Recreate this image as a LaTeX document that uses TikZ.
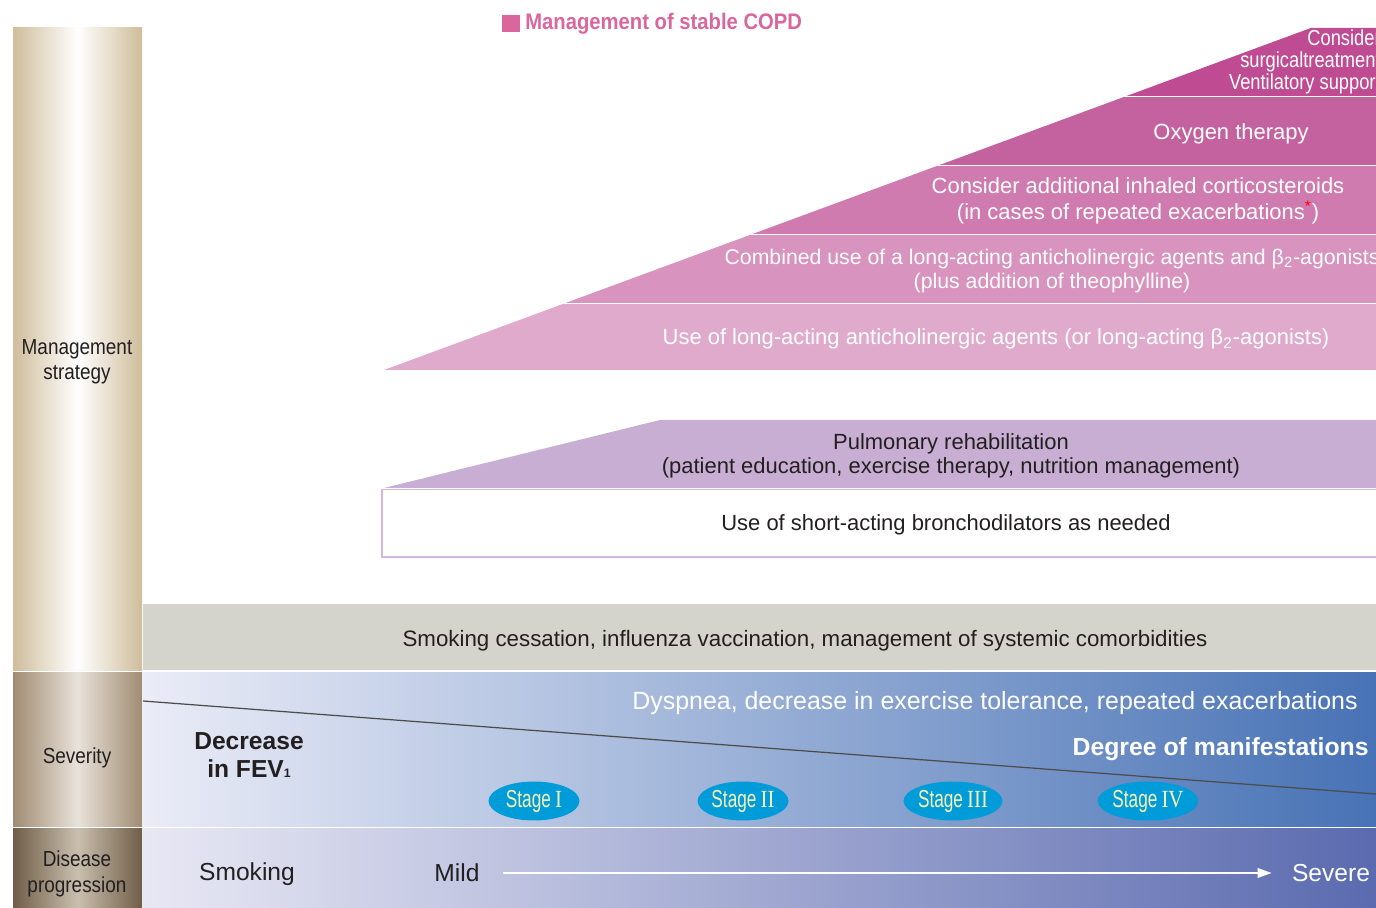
\documentclass[tikz,border=0pt]{standalone}
\usepackage{fontspec}
\setmainfont{Liberation Sans}
\newfontfamily\narrowfont[FakeStretch=0.87]{Liberation Sans}
\newfontfamily\surgfont[FakeStretch=0.84]{Liberation Sans}
\newfontfamily\titlefont[FakeStretch=0.9]{Liberation Sans}
\newfontfamily\stagefont[FakeStretch=0.7]{Liberation Sans}
\newfontfamily\romanfont[FakeStretch=0.85]{Liberation Serif}
\usetikzlibrary{shapes.geometric,arrows.meta}

\definecolor{tanEdge}{HTML}{CFBD9B}
\definecolor{sevEdge}{HTML}{A08C72}
\definecolor{sevMid}{HTML}{E8E2DA}
\definecolor{progEdge}{HTML}{6F5D48}
\definecolor{progMid}{HTML}{CABFAE}
\definecolor{pinkA}{HTML}{BF4B92}
\definecolor{pinkB}{HTML}{C462A0}
\definecolor{pinkC}{HTML}{CF7BB0}
\definecolor{pinkD}{HTML}{D893BE}
\definecolor{pinkE}{HTML}{DFAACC}
\definecolor{rehabFill}{HTML}{C9AED4}
\definecolor{rehabLine}{HTML}{D2B6DC}
\definecolor{greyBand}{HTML}{D4D4CC}
\definecolor{stageBlue}{HTML}{009BD9}
\definecolor{stageText}{HTML}{F6F2B4}
\definecolor{titlePink}{HTML}{D9669C}
\definecolor{textGrey}{HTML}{231F20}

\tikzset{
  sidelabel/.style={font=\narrowfont\fontsize{12.4}{14.4}\selectfont, text=textGrey, align=center},
  bandtext/.style={font=\fontsize{12.5}{15}\selectfont, text=white, align=center},
  darktext/.style={font=\fontsize{12.5}{13.6}\selectfont, text=textGrey, align=center},
  stagenode/.style={ellipse, fill=stageBlue, text=stageText, minimum width=1.82cm, minimum height=0.78cm, inner sep=0pt, font=\stagefont\fontsize{14}{15}\selectfont},
  rowtext/.style={font=\fontsize{14}{16}\selectfont, inner sep=0pt},
}

\begin{document}
\begin{tikzpicture}[x=0.02cm, y=-0.02cm]
    \useasboundingbox (0,0) rectangle (1376,908);
    \clip (0,0) rectangle (1376,908);
    % left column
    \shade[left color=tanEdge, right color=tanEdge, middle color=white] (13,28) rectangle (142,670);
    \shade[left color=sevEdge, right color=sevEdge, middle color=sevMid] (13,672) rectangle (142,826);
    \shade[left color=progEdge, right color=progEdge, middle color=progMid] (13,828) rectangle (142,908);
    \node[sidelabel] (mgmt) at (77,362) {Management\\strategy};
    \node[sidelabel] (sev) at (77,758) {Severity};
    \node[sidelabel] (prog) at (77,874) {Disease\\progression};
    % title
    \fill[titlePink] (502,15) rectangle (520,32);
    \node[anchor=west, text=titlePink, font=\titlefont\bfseries\fontsize{12.8}{14}\selectfont, inner sep=0pt] (title) at (525,23.5) {Management of stable COPD};
    % drug wedge
    \foreach \ya/\yb/\col in {28/96.5/pinkA, 96.5/165.5/pinkB, 165.5/234.5/pinkC, 234.5/303.5/pinkD, 303.5/370/pinkE}
        \fill[\col] ({384+(370-\ya)*2.71},\ya) -- (1400,\ya) -- (1400,\yb) -- ({384+(370-\yb)*2.71},\yb) -- cycle;
    \foreach \ya in {96.5,165.5,234.5,303.5}
        \draw[white, line width=0.9pt] ({384+(370-\ya)*2.71},\ya) -- (1400,\ya);
    \node[anchor=east, align=right, text=white, font=\surgfont\fontsize{12.4}{12.4}\selectfont, inner sep=0pt] (surg) at (1381,62) {Consider\\surgicaltreatment\\Ventilatory support};
    \node[bandtext] (oxy) at (1231,134) {Oxygen therapy};
    \node[bandtext, font=\fontsize{12.5}{14.7}\selectfont] (ics) at (1138,201) {Consider additional inhaled corticosteroids\\(in cases of repeated exacerbations\textsuperscript{\color{red}*})};
    \node[bandtext, font=\fontsize{12.1}{14.2}\selectfont] (combo) at (1052,271) {Combined use of a long-acting anticholinergic agents and β\textsubscript{2}-agonists\\(plus addition of theophylline)};
    \node[bandtext] (lama) at (996,339) {Use of long-acting anticholinergic agents (or long-acting β\textsubscript{2}-agonists)};
    % rehabilitation and short-acting
    \fill[rehabFill] (384,488) -- (660,420) -- (1400,420) -- (1400,488) -- cycle;
    \node[darktext] (rehab) at (951,456) {Pulmonary rehabilitation\\(patient education, exercise therapy, nutrition management)};
    \draw[rehabLine, fill=white, line width=0.6pt] (382,489.5) rectangle (1400,557);
    \node[darktext] (saba) at (946,525) {Use of short-acting bronchodilators as needed};
    % general measures
    \fill[greyBand] (143,604) rectangle (1400,670);
    \node[darktext, font=\fontsize{12.7}{14}\selectfont] (general) at (805,641) {Smoking cessation, influenza vaccination, management of systemic comorbidities};
    % severity
    \shade[left color={rgb,255:red,234;green,236;blue,247}, middle color={rgb,255:red,154;green,168;blue,214}, right color={rgb,255:red,68;green,112;blue,180}] (143,672) rectangle (1400,826);
    \draw[black!70, line width=0.7pt] (143,701) -- (1376,794);
    \node[anchor=east, text=white, font=\fontsize{14.2}{16}\selectfont, inner sep=0pt] (dysp) at (1358,703) {Dyspnea, decrease in exercise tolerance, repeated exacerbations};
    \node[anchor=east, text=white, font=\bfseries\fontsize{14.1}{16}\selectfont, inner sep=0pt] (degree) at (1369,749) {Degree of manifestations};
    \node[align=center, text=textGrey, font=\bfseries\fontsize{14}{15.5}\selectfont] (fev) at (249,755) {Decrease\\in FEV{\fontsize{7}{8}\selectfont 1}};
    \node[stagenode] (s1) at (534,801) {Stage\,{\romanfont I}};
    \node[stagenode] (s2) at (743,801) {Stage\,{\romanfont II}};
    \node[stagenode] (s3) at (953,801) {Stage\,{\romanfont III}};
    \node[stagenode] (s4) at (1148,801) {Stage\,{\romanfont IV}};
    % progression
    \shade[left color={rgb,255:red,232;green,232;blue,244}, middle color={rgb,255:red,140;green,144;blue,196}, right color={rgb,255:red,88;green,104;blue,174}] (143,828) rectangle (1400,908);
    \node[rowtext, text=textGrey] (smoking) at (247,874) {Smoking};
    \node[rowtext, text=textGrey] (mild) at (457,873) {Mild};
    \node[rowtext, text=white] (severe) at (1331,873) {Severe};
    \draw[white, line width=0.8pt, -{Triangle[length=8pt, width=5.5pt]}, shorten <=0.46cm, shorten >=0.4cm] (mild.east) -- (severe.west);
\end{tikzpicture}
\end{document}
